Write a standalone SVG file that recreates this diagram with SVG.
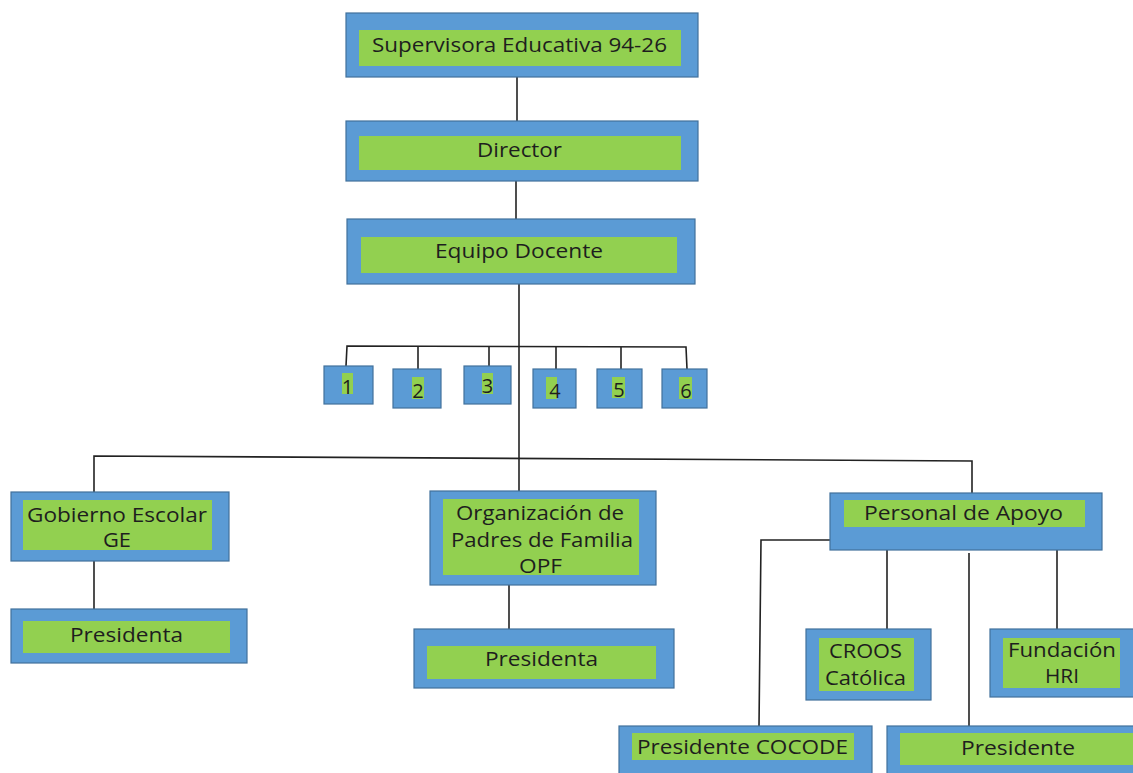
<svg xmlns="http://www.w3.org/2000/svg" width="1133" height="773" viewBox="0 0 1133 773">
<style>
.o{fill:#5B9BD5;stroke:#41719C;stroke-width:1.2}
.i{fill:#92D050}
.t{font-family:"Open Sans","Noto Sans",sans-serif;font-size:20px;fill:#1e1e1e;text-anchor:middle}
.c{fill:none;stroke:#222;stroke-width:1.6}
</style>
<rect width="1133" height="773" fill="#fff"/>
<g id="connectors">
<line class="c" x1="517" y1="77" x2="517" y2="121"/>
<line class="c" x1="516" y1="181" x2="516" y2="219"/>
<line class="c" x1="519" y1="284" x2="519" y2="491"/>
<polyline class="c" points="346,366 347,346 686,347 687,369"/>
<line class="c" x1="418" y1="346" x2="418" y2="369"/>
<line class="c" x1="489" y1="346" x2="489" y2="366"/>
<line class="c" x1="556" y1="347" x2="556" y2="369"/>
<line class="c" x1="621" y1="347" x2="621" y2="369"/>
<polyline class="c" points="94,492 94,456 972,461 972,493"/>
<line class="c" x1="94" y1="561" x2="94" y2="609"/>
<line class="c" x1="509" y1="585" x2="509" y2="629"/>
<polyline class="c" points="830,540 761,540 759,726"/>
<line class="c" x1="887" y1="550" x2="887" y2="629"/>
<line class="c" x1="969" y1="553" x2="969" y2="726"/>
<line class="c" x1="1057" y1="550" x2="1057" y2="636"/>
</g>
<g id="supervisora">
<rect class="o" x="346" y="13" width="352" height="64"/>
<rect class="i" x="359" y="30" width="322" height="36"/>
<text class="t" x="519.5" y="52" textLength="295" lengthAdjust="spacingAndGlyphs">Supervisora Educativa 94-26</text>
</g>
<g id="director">
<rect class="o" x="346" y="121" width="352" height="60"/>
<rect class="i" x="359" y="136" width="322" height="34"/>
<text class="t" x="519.5" y="157" textLength="85" lengthAdjust="spacingAndGlyphs">Director</text>
</g>
<g id="equipo">
<rect class="o" x="347" y="219" width="348" height="65"/>
<rect class="i" x="361" y="237" width="316" height="36"/>
<text class="t" x="519" y="258" textLength="168" lengthAdjust="spacingAndGlyphs">Equipo Docente</text>
</g>
<g id="n1">
<rect class="o" x="324" y="366" width="49" height="38"/>
<rect class="i" x="342" y="373" width="11" height="21"/>
<text class="t" x="347.5" y="394">1</text>
</g>
<g id="n2">
<rect class="o" x="393" y="369" width="48" height="39"/>
<rect class="i" x="412" y="377" width="12" height="22"/>
<text class="t" x="418" y="398">2</text>
</g>
<g id="n3">
<rect class="o" x="464" y="366" width="47" height="38"/>
<rect class="i" x="482" y="373" width="11" height="21"/>
<text class="t" x="487.5" y="393">3</text>
</g>
<g id="n4">
<rect class="o" x="533" y="369" width="43" height="39"/>
<rect class="i" x="546" y="377" width="11" height="22"/>
<text class="t" x="555" y="398">4</text>
</g>
<g id="n5">
<rect class="o" x="597" y="369" width="45" height="39"/>
<rect class="i" x="612" y="377" width="13" height="21"/>
<text class="t" x="619" y="397">5</text>
</g>
<g id="n6">
<rect class="o" x="662" y="369" width="45" height="39"/>
<rect class="i" x="679" y="377" width="13" height="22"/>
<text class="t" x="686" y="398">6</text>
</g>
<g id="gobierno">
<rect class="o" x="11" y="492" width="218" height="69"/>
<rect class="i" x="23" y="500" width="189" height="50"/>
<text class="t" x="117" y="522" textLength="180" lengthAdjust="spacingAndGlyphs">Gobierno Escolar</text>
<text class="t" x="117" y="547" textLength="28" lengthAdjust="spacingAndGlyphs">GE</text>
</g>
<g id="presidenta-ge">
<rect class="o" x="11" y="609" width="236" height="54"/>
<rect class="i" x="23" y="621" width="207" height="32"/>
<text class="t" x="126.5" y="642" textLength="113" lengthAdjust="spacingAndGlyphs">Presidenta</text>
</g>
<g id="opf">
<rect class="o" x="430" y="491" width="226" height="94"/>
<rect class="i" x="443" y="499" width="196" height="76"/>
<text class="t" x="540" y="520" textLength="168" lengthAdjust="spacingAndGlyphs">Organización de</text>
<text class="t" x="542" y="547" textLength="182" lengthAdjust="spacingAndGlyphs">Padres de Familia</text>
<text class="t" x="540.5" y="573" textLength="43" lengthAdjust="spacingAndGlyphs">OPF</text>
</g>
<g id="presidenta-opf">
<rect class="o" x="414" y="629" width="260" height="59"/>
<rect class="i" x="427" y="646" width="229" height="33"/>
<text class="t" x="541.5" y="666" textLength="113" lengthAdjust="spacingAndGlyphs">Presidenta</text>
</g>
<g id="personal">
<rect class="o" x="830" y="493" width="272" height="57"/>
<rect class="i" x="844" y="500" width="241" height="27"/>
<text class="t" x="963.5" y="520" textLength="199" lengthAdjust="spacingAndGlyphs">Personal de Apoyo</text>
</g>
<g id="croos">
<rect class="o" x="806" y="629" width="125" height="71"/>
<rect class="i" x="819" y="638" width="95" height="53"/>
<text class="t" x="865.5" y="658" textLength="73" lengthAdjust="spacingAndGlyphs">CROOS</text>
<text class="t" x="865.5" y="685" textLength="81" lengthAdjust="spacingAndGlyphs">Católica</text>
</g>
<g id="fundacion">
<rect class="o" x="990" y="629" width="150" height="68"/>
<rect class="i" x="1003" y="638" width="117" height="50"/>
<text class="t" x="1062" y="657" textLength="108" lengthAdjust="spacingAndGlyphs">Fundación</text>
<text class="t" x="1062" y="683" textLength="34" lengthAdjust="spacingAndGlyphs">HRI</text>
</g>
<g id="presidente-cocode">
<rect class="o" x="619" y="726" width="253" height="55"/>
<rect class="i" x="632" y="733" width="222" height="27"/>
<text class="t" x="742.5" y="754" textLength="211" lengthAdjust="spacingAndGlyphs">Presidente COCODE</text>
</g>
<g id="presidente">
<rect class="o" x="887" y="726" width="260" height="55"/>
<rect class="i" x="900" y="733" width="240" height="32"/>
<text class="t" x="1018" y="755" textLength="114" lengthAdjust="spacingAndGlyphs">Presidente</text>
</g>
</svg>
